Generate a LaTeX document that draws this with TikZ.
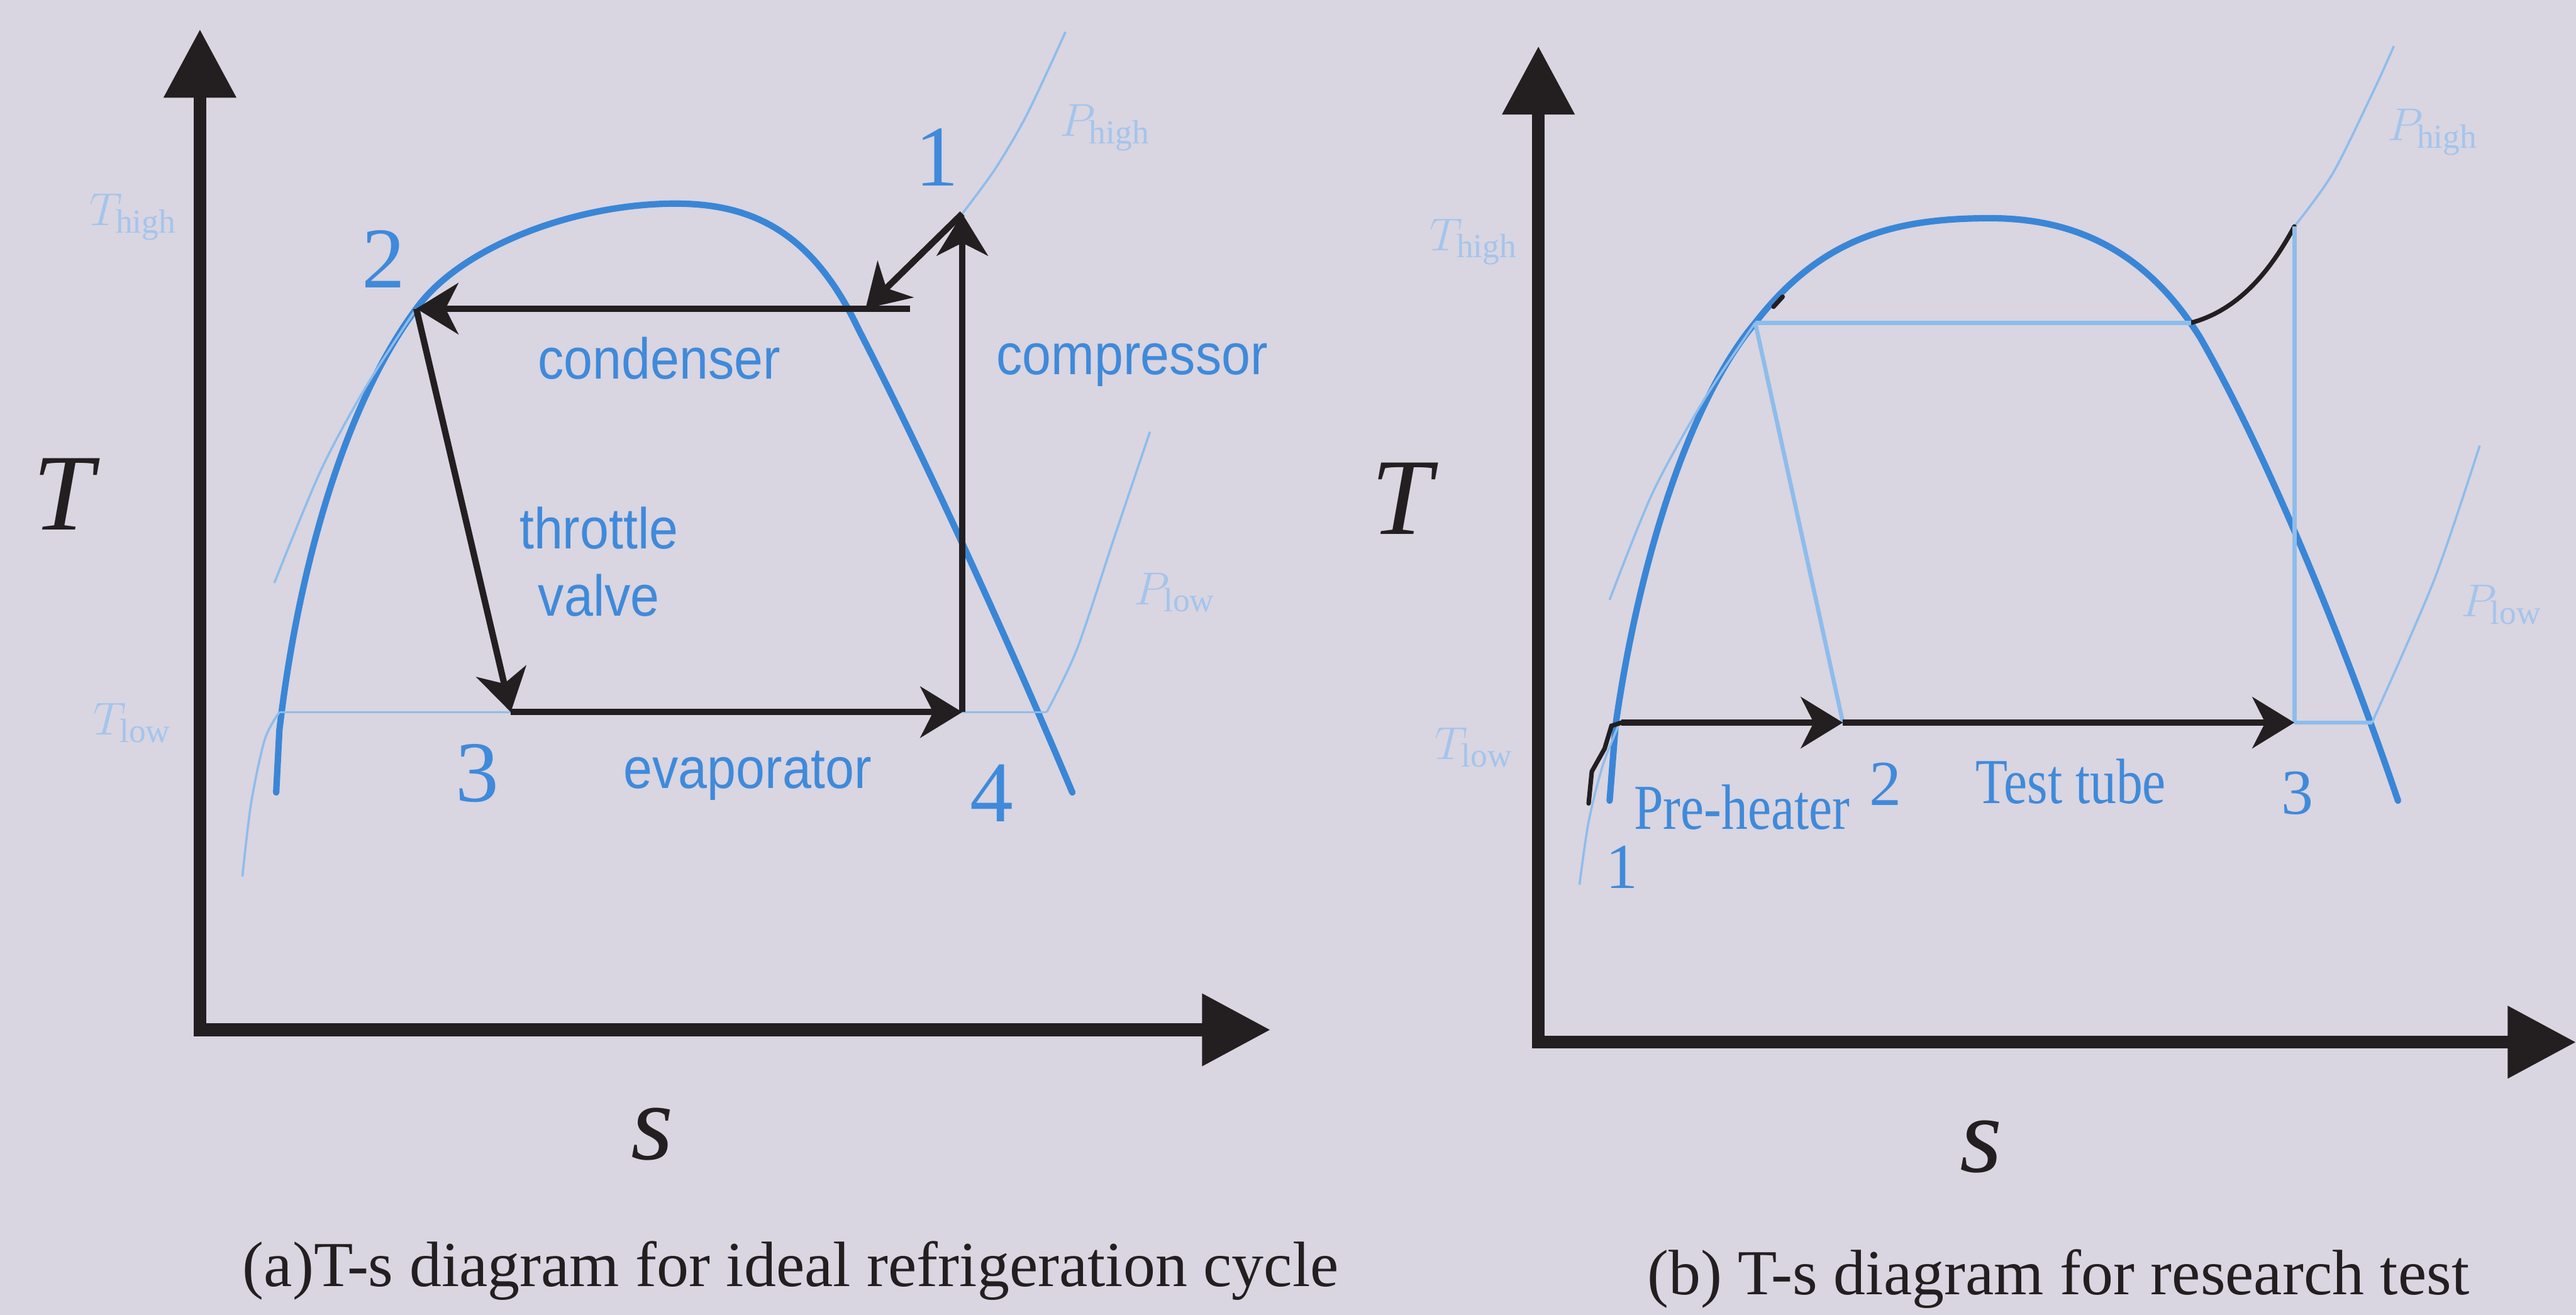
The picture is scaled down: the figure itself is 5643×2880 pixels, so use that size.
\documentclass[tikz,border=0pt]{standalone}
\usepackage{fontspec}
\setmainfont{Liberation Serif}
\newfontfamily\lblsans[FakeStretch=0.9]{Liberation Sans}
\newfontfamily\lblserif[FakeStretch=0.82]{Liberation Serif}
\usetikzlibrary{arrows.meta}
\definecolor{paper}{HTML}{D9D5E1}
\definecolor{domeBlue}{HTML}{3A86D6}
\definecolor{labelBlue}{HTML}{3F8ADA}
\definecolor{thinBlue}{HTML}{8DBDEC}
\definecolor{paleBlue}{HTML}{A3C5EC}
\definecolor{inkBlack}{HTML}{231F20}

\begin{document}
\begin{tikzpicture}[x=0.005cm, y=-0.005cm,
    axis/.style={draw=inkBlack, line width=4pt,
      {Triangle[length=0.75cm,width=0.76cm]}-{Triangle[length=0.75cm,width=0.76cm]}},
    dome/.style={draw=domeBlue, line width=2pt, line cap=round},
    thinline/.style={draw=thinBlue, line width=0.7pt},
    pathline/.style={draw=thinBlue, line width=1.3pt},
    inkline/.style={draw=inkBlack, line width=1.4pt, line cap=round},
    cyc/.style={draw=inkBlack, line width=2pt,
      -{Stealth[length=0.46cm,width=0.56cm,inset=0.14cm]}},
    numA/.style={text=labelBlue, font=\fontsize{27}{30}\selectfont, inner sep=0pt},
    numB/.style={text=labelBlue, font=\fontsize{20}{24}\selectfont, inner sep=0pt},
    sanslab/.style={text=labelBlue, font=\lblsans\fontsize{18}{21}\selectfont, inner sep=0pt, align=center},
    seriflab/.style={text=labelBlue, font=\lblserif\fontsize{20}{24}\selectfont, inner sep=0pt},
    statelab/.style={text=paleBlue, font=\fontsize{15}{18}\selectfont, inner sep=0pt},
    axlab/.style={text=inkBlack, font=\fontsize{34}{40}\selectfont\itshape, inner sep=0pt},
    caption/.style={text=inkBlack, font=\fontsize{20}{24}\selectfont, inner sep=0pt}]

    % page
    \fill[paper] (0,0) rectangle (5643,2880);
    \useasboundingbox (0,0) rectangle (5643,2880);

    % ---------------- (a) ideal refrigeration cycle ----------------
    \coordinate (a-o) at (438,2256);
    \coordinate (a-y) at (438,64);
    \coordinate (a-x) at (2783,2256);
    \draw[axis] (a-y) -- (a-o) -- (a-x);

    % saturation dome
    \draw[dome] (605,1736) -- (612,1600)
      .. controls (655,1230) and (760,880) .. (912,676)
      .. controls (1010,540) and (1260,446) .. (1480,446)
      .. controls (1650,446) and (1780,510) .. (1880,720)
      .. controls (2060,1070) and (2250,1500) .. (2349,1736);

    % state points
    \coordinate (a1) at (2108,468);
    \coordinate (a2) at (912,676);
    \coordinate (a3) at (1119,1560);
    \coordinate (a4) at (2108,1560);
    \coordinate (a1c) at (1994,676);
    \coordinate (a1d) at (1896,676);

    % isobars and isotherm
    \draw[thinline] plot[smooth] coordinates {(a1) (2180,370) (2250,250) (2334,70)};
    \draw[thinline] plot[smooth] coordinates {(2293,1560) (2360,1420) (2440,1180) (2519,946)};
    \draw[thinline] plot[smooth] coordinates {(601,1277) (703,1030) (800,850) (a2)};
    \draw[thinline] plot[smooth] coordinates {(531,1920) (550,1760) (580,1620) (612,1560)};
    \draw[thinline] (612,1560) -- (a3);
    \draw[thinline] (a4) -- (2293,1560);

    % cycle
    \draw[cyc] (a1c) -- (a2);
    \draw[cyc] (a2) -- (a3);
    \draw[cyc] (a3) -- (a4);
    \draw[cyc] (a4) -- (a1);
    \draw[cyc] (a1) -- (a1d);

    % labels
    \node[numA] (a-n1) at (2052,345) {1};
    \node[numA] (a-n2) at (840,567) {2};
    \node[numA] (a-n3) at (1046,1694) {3};
    \node[numA] (a-n4) at (2172,1737) {4};
    \node[sanslab] (a-cond) at (1444,785) {condenser};
    \node[sanslab] (a-comp) at (2480,799) {compressor};
    \node[sanslab] (a-thr) at (1312,1230) {throttle\\valve};
    \node[sanslab] (a-evap) at (1638,1699) {evaporator};
    \node[statelab] (a-th) at (292,475) {$T_{\mathrm{high}}$};
    \node[statelab] (a-tl) at (290,1584) {$T_{\mathrm{low}}$};
    \node[statelab] (a-ph) at (2421,280) {$P_{\mathrm{high}}$};
    \node[statelab] (a-pl) at (2574,1298) {$P_{\mathrm{low}}$};
    \node[axlab] (a-T) at (139,1082) {T};
    \node[axlab] (a-s) at (1429,2484) {s};
    \node[caption] (a-cap) at (1732,2783) {(a)T-s diagram for ideal refrigeration cycle};

    % ---------------- (b) research test ----------------
    \coordinate (b-o) at (3370,2283);
    \coordinate (b-y) at (3370,101);
    \coordinate (b-x) at (5643,2283);
    \draw[axis] (b-y) -- (b-o) -- (b-x);

    % saturation dome
    \draw[dome] (3526,1754) -- (3539,1589)
      .. controls (3590,1230) and (3700,880) .. (3845,707)
      .. controls (3990,520) and (4150,478) .. (4360,478)
      .. controls (4580,478) and (4720,580) .. (4820,740)
      .. controls (4980,1020) and (5150,1450) .. (5253,1754);

    % state points
    \coordinate (b1) at (3552,1583);
    \coordinate (b2) at (4037,1583);
    \coordinate (b3) at (5026,1583);
    \coordinate (b-sl) at (3845,707);
    \coordinate (b-sv) at (4800,707);
    \coordinate (b-hi) at (5026,496);
    \coordinate (b-lo) at (5196,1583);

    % isobars, isotherms and paths
    \draw[thinline] plot[smooth] coordinates {(b-hi) (5110,380) (5199,200) (5244,101)};
    \draw[inkline] (b-sv) .. controls (4900,680) and (4970,600) .. (b-hi);
    \draw[thinline] plot[smooth] coordinates {(b-lo) (5332,1271) (5432,976)};
    \draw[thinline] plot[smooth] coordinates {(3526,1314) (3620,1080) (3730,880) (b-sl)};
    \draw[thinline] plot[smooth] coordinates {(3460,1938) (3480,1800) (3510,1680) (3545,1590)};
    \draw[pathline] (b-sl) -- (b-sv);
    \draw[pathline] (b-sl) -- (b2);
    \draw[pathline] (b-hi) -- (b3);
    \draw[pathline] (b3) -- (b-lo);
    \draw[inkline] (3885,672) -- (3905,650);
    \draw[inkline] plot coordinates {(3480,1760) (3487,1690) (3515,1640) (3530,1590) (b1)};

    % test path
    \draw[cyc] (b1) -- (b2);
    \draw[cyc] (b2) -- (b3);

    % labels
    \node[numB] (b-n1) at (3553,1899) {1};
    \node[numB] (b-n2) at (4130,1717) {2};
    \node[numB] (b-n3) at (5033,1737) {3};
    \node[seriflab] (b-pre) at (3816,1768) {Pre-heater};
    \node[seriflab] (b-tube) at (4536,1712) {Test tube};
    \node[statelab] (b-th) at (3229,530) {$T_{\mathrm{high}}$};
    \node[statelab] (b-tl) at (3229,1638) {$T_{\mathrm{low}}$};
    \node[statelab] (b-ph) at (5330,290) {$P_{\mathrm{high}}$};
    \node[statelab] (b-pl) at (5480,1325) {$P_{\mathrm{low}}$};
    \node[axlab] (b-T) at (3071,1092) {T};
    \node[axlab] (b-s) at (4340,2512) {s};
    \node[caption] (b-cap) at (4509,2801) {(b) T-s diagram for research test};

\end{tikzpicture}
\end{document}
